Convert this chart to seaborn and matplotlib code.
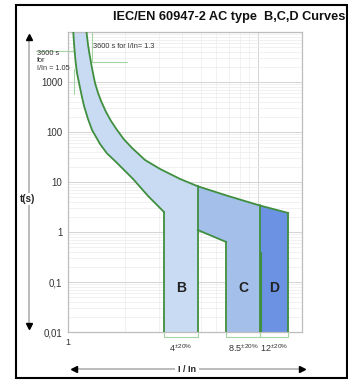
import numpy as np
import matplotlib
matplotlib.use("Agg")
import matplotlib.pyplot as plt
import seaborn as sns
from matplotlib.lines import Line2D
from matplotlib.patches import Rectangle

# ---------------- data ----------------
upper_x = [1.251, 1.274, 1.297, 1.337, 1.387, 1.439, 1.492, 1.585, 1.684, 1.81,
           1.971, 2.172, 2.543, 3.05, 3.886, 4.8, 6.95, 10.2, 14.4]
upper_t = [10000, 5623, 3630, 1905, 955, 603, 417, 251, 166, 110,
           70.8, 47.9, 27.5, 18.2, 11.5, 8.24, 5.25, 3.39, 2.4]
lower_x = [1.066, 1.078, 1.095, 1.115, 1.143, 1.178, 1.214, 1.274, 1.337, 1.474,
           1.604, 1.767, 1.971, 2.198, 2.636, 3.2]
lower_t = [10000, 5250, 2630, 1514, 955, 550, 331, 182, 110, 57.5,
           37.2, 26.3, 17.4, 11.5, 5.25, 2.5]
band_B = [3.2, 4.8]
band_C = [6.8, 10.2]
band_D = [10.2, 14.4]
C_step_x = [4.8, 6.8]
C_step_t = [1.1, 0.63]
D_inner_x = 10.3
D_inner_t = 0.38
curve_names = ["B", "C", "D"]
nominal = ["4", "8.5", "12"]
t_min, t_max = 0.01, 10000
x_min, x_max = 1, 17
yticks = [0.01, 0.1, 1, 10, 100, 1000]
ytick_labels = ["0,01", "0,1", "1", "10", "100", "1000"]
title = "IEC/EN 60947-2 AC type  B,C,D Curves"

# ---------------- style ----------------
sns.set_theme(style="white")
plt.rcParams["font.family"] = ["Liberation Sans", "DejaVu Sans"]
plt.rcParams["mathtext.fontset"] = "custom"
plt.rcParams["mathtext.rm"] = "Liberation Sans"
plt.rcParams["mathtext.it"] = "Liberation Sans"

W, H = 348, 380
fig = plt.figure(figsize=(W / 100, H / 100), dpi=100)
ax = fig.add_axes([68 / W, 1 - 332 / H, 234 / W, 300 / H])

def fx(px):
    return px / W

def fy(py):
    return 1 - py / H

GREEN = "#3f8f3f"
LGREEN = "#a3d6a3"
COL_B = "#c9daf3"
COL_C = "#a4bfea"
COL_D = "#6c93e3"

ux = np.array(upper_x); ut = np.array(upper_t)
lx = np.array(lower_x); lt = np.array(lower_t)

# B band fill (thermal band + magnetic part B)
mB = ux <= band_B[1]
polyB_x = list(ux[mB]) + [band_B[1], band_B[0]] + list(lx[::-1])
polyB_t = list(ut[mB]) + [t_min, t_min] + list(lt[::-1])
ax.fill(polyB_x, polyB_t, color=COL_B, lw=0, zorder=1)

# C region
mC = (ux >= C_step_x[0]) & (ux <= band_C[1])
polyC_x = list(ux[mC]) + [band_C[1], band_C[0]] + [C_step_x[1], C_step_x[0]]
polyC_t = list(ut[mC]) + [t_min, t_min] + [C_step_t[1], C_step_t[0]]
ax.fill(polyC_x, polyC_t, color=COL_C, lw=0, zorder=1)

# D region
mD = (ux >= band_D[0]) & (ux <= band_D[1])
polyD_x = list(ux[mD]) + [band_D[1], band_D[0]]
polyD_t = list(ut[mD]) + [t_min, t_min]
ax.fill(polyD_x, polyD_t, color=COL_D, lw=0, zorder=1)

# curves
for xs, ts in [(upper_x, upper_t), (lower_x, lower_t), (C_step_x, C_step_t)]:
    sns.lineplot(x=xs, y=ts, ax=ax, sort=False, estimator=None,
                 color=GREEN, lw=1.3, zorder=3)

# vertical edges
def ut_at(x):
    return ut[np.argmin(np.abs(ux - x))]

vkw = dict(color=GREEN, lw=1.3, zorder=3)
ax.plot([band_B[0], band_B[0]], [lower_t[-1], t_min], **vkw)
ax.plot([band_B[1], band_B[1]], [ut_at(band_B[1]), t_min], **vkw)
ax.plot([band_C[0], band_C[0]], [C_step_t[1], t_min], **vkw)
ax.plot([band_C[1], band_C[1]], [ut_at(band_C[1]), t_min], **vkw)
ax.plot([band_D[1], band_D[1]], [ut_at(band_D[1]), t_min], **vkw)
ax.plot([D_inner_x, D_inner_x], [D_inner_t, t_min], color=GREEN, lw=1.5, zorder=3)

# axes
ax.set_xscale("log")
ax.set_yscale("log")
ax.set_xlim(x_min, x_max)
ax.set_ylim(t_min, t_max)
ax.set_xticks([1, 10], labels=["1", ""])
ax.set_yticks(yticks, labels=ytick_labels)
ax.xaxis.set_minor_locator(matplotlib.ticker.LogLocator(subs=np.arange(2, 10)))
ax.yaxis.set_minor_locator(matplotlib.ticker.LogLocator(subs=np.arange(2, 10)))
ax.xaxis.set_minor_formatter(matplotlib.ticker.NullFormatter())
ax.yaxis.set_minor_formatter(matplotlib.ticker.NullFormatter())
ax.tick_params(which="both", length=0)
ax.tick_params(axis="y", labelsize=7, pad=4, labelcolor="#333333")
ax.tick_params(axis="x", labelsize=6.5, pad=4, labelcolor="#333333")
ax.grid(which="major", color="#d4d4d4", lw=0.7, zorder=0)
ax.grid(which="minor", color="#ececec", lw=0.5, zorder=0)
ax.set_axisbelow(True)
for s in ax.spines.values():
    s.set_color("#bdbdbd")
    s.set_linewidth(0.9)
ax.set_xlabel("")
ax.set_ylabel("")

# curve letters
xa = ax.get_xaxis_transform()
for name, band in zip(curve_names, [band_B, band_C, band_D]):
    xc = np.sqrt(band[0] * band[1])
    ax.text(xc, 0.147, name, transform=xa, ha="center", va="center",
            fontsize=10, fontweight="bold", color="#222222", zorder=4)

# tolerance brackets under the axis
for nom, band in zip(nominal, [band_B, band_C, band_D]):
    ax.plot([band[0], band[0], band[1], band[1]], [0, -0.017, -0.017, 0],
            transform=xa, color=LGREEN, lw=0.8, clip_on=False, zorder=2)
    xc = np.sqrt(band[0] * band[1])
    ax.text(xc, -0.035, nom + r"$^{\pm20\%}$", transform=xa, ha="center",
            va="top", fontsize=6.5, color="#333333")

# annotations inside the plot
ax.plot([1.33, 1.33, 2.04], [t_max, 2500, 2500], color=LGREEN, lw=0.8, zorder=2)
ax.text(1.36, 5200, "3600 s for I/In= 1.3", fontsize=5.3, color="#333333",
        va="center", ha="left")
ax.plot([0.68, 1.066], [4170, 4170], color=LGREEN, lw=0.8, clip_on=False, zorder=2)
ax.plot([1.075, 1.075], [1800, 580], color=LGREEN, lw=0.8, zorder=2)
fig.text(fx(37), fy(50), "3600 s\nfor\nI/In = 1.05", fontsize=5.3, color="#333333",
         ha="left", va="top", linespacing=1.05)

# title
fig.text(fx(345), fy(17), title, ha="right", va="center", fontsize=9.2,
         fontweight="bold", color="#111111")

# vertical t(s) arrow
fig.add_artist(Line2D([fx(29), fx(29)], [fy(38), fy(324)], color="#b0b0b0", lw=1.2))
fig.add_artist(Line2D([fx(29)], [fy(37)], marker="^", markersize=5, color="black", lw=0))
fig.add_artist(Line2D([fx(29)], [fy(326)], marker="v", markersize=5, color="black", lw=0))
fig.text(fx(28), fy(199), "t(s)", ha="center", va="center", fontsize=7,
         fontweight="bold", color="#222222",
         bbox=dict(facecolor="white", edgecolor="none", pad=1))

# horizontal I/In arrow
fig.add_artist(Line2D([fx(75), fx(301)], [fy(369), fy(369)], color="#b0b0b0", lw=1.2))
fig.add_artist(Line2D([fx(74)], [fy(369)], marker="<", markersize=5, color="black", lw=0))
fig.add_artist(Line2D([fx(302)], [fy(369)], marker=">", markersize=5, color="black", lw=0))
fig.text(fx(187), fy(369), "I / In", ha="center", va="center", fontsize=6.5,
         fontweight="bold", color="#222222",
         bbox=dict(facecolor="white", edgecolor="none", pad=2))

# outer frame
fig.add_artist(Rectangle((fx(16), fy(378)), (347 - 16) / W, (378 - 5) / H,
                         fill=False, edgecolor="black", lw=1.5,
                         transform=fig.transFigure))

fig.savefig("out.png", dpi=100)
